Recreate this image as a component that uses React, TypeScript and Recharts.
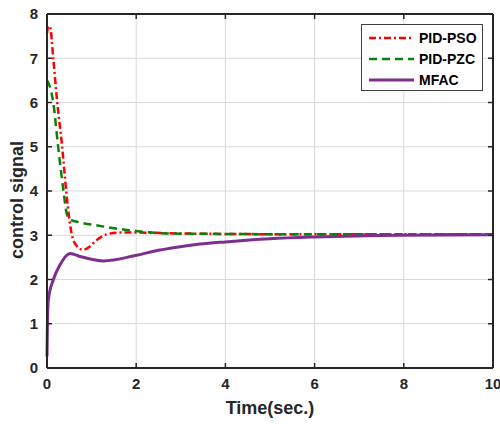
import React from "react";
import {
  LineChart,
  Line,
  XAxis,
  YAxis,
  CartesianGrid,
} from "recharts";

// time (s) and value pairs
const psoT = [0, 0.03, 0.07, 0.14, 0.23, 0.34, 0.44, 0.55, 0.65, 0.81, 0.95, 1.1, 1.34, 1.6, 2, 3, 4, 6, 8, 10];
const psoV = [7.56, 7.73, 7.7, 7.0, 6.0, 5.0, 3.9, 3.05, 2.78, 2.67, 2.74, 2.88, 3.02, 3.06, 3.06, 3.04, 3.03, 3.02, 3.02, 3.02];

const pzcT = [0, 0.05, 0.14, 0.25, 0.37, 0.44, 0.52, 0.74, 1.19, 1.94, 2.68, 4, 6, 8, 10];
const pzcV = [6.5, 6.4, 6.0, 5.0, 4.0, 3.5, 3.35, 3.29, 3.21, 3.1, 3.04, 3.03, 3.02, 3.02, 3.02];

const mfacT = [0, 0.01, 0.03, 0.14, 0.29, 0.52, 0.74, 1.26, 2.01, 2.5, 2.91, 3.43, 4, 5, 6, 8, 10];
const mfacV = [0.26, 1.0, 1.54, 1.99, 2.33, 2.59, 2.52, 2.42, 2.55, 2.66, 2.73, 2.8, 2.85, 2.92, 2.96, 3.0, 3.01];

const xTicks = [0, 2, 4, 6, 8, 10];
const yTicks = [0, 1, 2, 3, 4, 5, 6, 7, 8];

const toPoints = (ts: number[], vs: number[]) =>
  ts.map((t, i) => ({ t, v: vs[i] }));

// the PZC curve sits on the top/right axes (same domains) so those axes get their ticks
const series = [
  { name: "PID-PSO", data: toPoints(psoT, psoV), color: "#FF0000", dash: "7 3 2 3", width: 2.5, xId: "main", yId: "main" },
  { name: "PID-PZC", data: toPoints(pzcT, pzcV), color: "#0B800B", dash: "8 5", width: 2.5, xId: "top", yId: "right" },
  { name: "MFAC", data: toPoints(mfacT, mfacV), color: "#7E2F8E", dash: undefined, width: 3, xId: "main", yId: "main" },
];

const axisColor = "#262626";
const font = "'Liberation Sans', Arial, sans-serif";
const noLabel = () => <g />;

function LegendBox() {
  return (
    <div
      style={{
        position: "absolute",
        left: 361,
        top: 24,
        width: 120,
        height: 65,
        background: "#fff",
        border: "1px solid #404040",
        fontFamily: font,
        fontWeight: "bold",
        fontSize: 14,
        color: "#000",
      }}
    >
      {series.map((s, i) => (
        <div
          key={s.name}
          style={{ position: "absolute", left: 7, top: 4 + i * 21, height: 17, display: "flex", alignItems: "center" }}
        >
          <svg width={46} height={6} style={{ marginRight: 4 }}>
            <line x1={0} y1={3} x2={45} y2={3} stroke={s.color} strokeWidth={s.width} strokeDasharray={s.dash} />
          </svg>
          <span>{s.name}</span>
        </div>
      ))}
    </div>
  );
}

const YTitle = (props: any) => {
  const vb = props.viewBox || { y: 14, height: 354 };
  const cy = vb.y + vb.height / 2 + 9;
  return (
    <text
      x={23}
      y={cy}
      transform={`rotate(-90, 23, ${cy})`}
      textAnchor="middle"
      fill={axisColor}
      fontSize={18}
      fontWeight="bold"
      fontFamily={font}
    >
      control signal
    </text>
  );
};

const tickStyle = { stroke: axisColor, strokeWidth: 1.5 };

export default function App() {
  return (
    <div style={{ position: "absolute", left: 0, top: 0, width: 500, height: 424, background: "#fff" }}>
      <LineChart width={500} height={424} margin={{ top: 13, right: 6, left: 0, bottom: 0 }}>
        <CartesianGrid xAxisId="main" yAxisId="main" stroke="#d9d9d9" strokeWidth={1} />
        <XAxis
          xAxisId="main"
          type="number"
          dataKey="t"
          domain={[0, 10]}
          ticks={xTicks}
          interval={0}
          height={56}
          tickSize={-5}
          tickMargin={15}
          axisLine={{ stroke: axisColor, strokeWidth: 2 }}
          tickLine={tickStyle}
          tick={{ fill: axisColor, fontSize: 15, fontWeight: "bold", fontFamily: font }}
          label={{
            value: "Time(sec.)",
            position: "insideBottom",
            offset: 10,
            style: { fill: axisColor, fontSize: 18, fontWeight: "bold", fontFamily: font },
          }}
        />
        <XAxis
          xAxisId="top"
          type="number"
          dataKey="t"
          domain={[0, 10]}
          ticks={xTicks}
          interval={0}
          orientation="top"
          height={1}
          tick={noLabel}
          tickSize={-5}
          tickMargin={0}
          axisLine={{ stroke: axisColor, strokeWidth: 2 }}
          tickLine={tickStyle}
        />
        <YAxis
          yAxisId="main"
          type="number"
          domain={[0, 8]}
          ticks={yTicks}
          interval={0}
          width={47}
          tickSize={-5}
          tickMargin={14}
          axisLine={{ stroke: axisColor, strokeWidth: 2 }}
          tickLine={tickStyle}
          tick={{ fill: axisColor, fontSize: 15, fontWeight: "bold", fontFamily: font }}
          label={<YTitle />}
        />
        <YAxis
          yAxisId="right"
          type="number"
          domain={[0, 8]}
          ticks={yTicks}
          interval={0}
          orientation="right"
          width={1}
          tick={noLabel}
          tickSize={-5}
          tickMargin={0}
          axisLine={{ stroke: axisColor, strokeWidth: 2 }}
          tickLine={tickStyle}
        />
        {series.map((s) => (
          <Line
            key={s.name}
            xAxisId={s.xId}
            yAxisId={s.yId}
            data={s.data}
            dataKey="v"
            name={s.name}
            type="monotone"
            stroke={s.color}
            strokeWidth={s.width}
            strokeDasharray={s.dash}
            dot={false}
            activeDot={false}
            isAnimationActive={false}
          />
        ))}
      </LineChart>
      <LegendBox />
    </div>
  );
}
